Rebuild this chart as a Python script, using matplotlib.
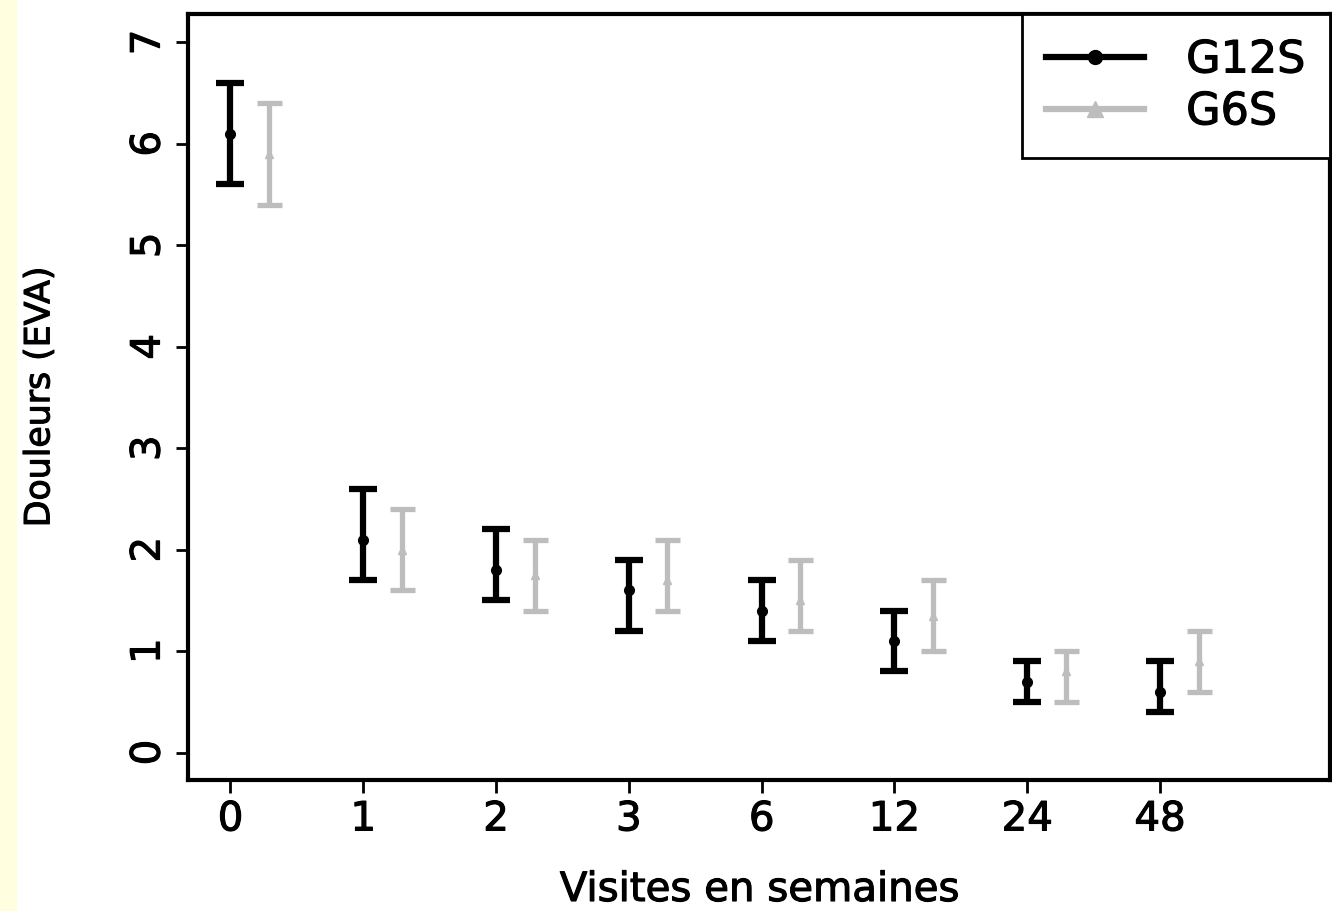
import numpy as np
import matplotlib.pyplot as plt
from matplotlib.lines import Line2D
import matplotlib.patheffects as pe

plt.rcParams['font.family'] = ['DejaVu Sans']

weeks = ['0', '1', '2', '3', '6', '12', '24', '48']

g12_mean = [6.1, 2.1, 1.8, 1.6, 1.4, 1.1, 0.7, 0.6]
g12_low = [5.6, 1.7, 1.5, 1.2, 1.1, 0.8, 0.5, 0.4]
g12_high = [6.6, 2.6, 2.2, 1.9, 1.7, 1.4, 0.9, 0.9]

g6_mean = [5.9, 2.0, 1.75, 1.7, 1.5, 1.35, 0.8, 0.9]
g6_low = [5.4, 1.6, 1.4, 1.4, 1.2, 1.0, 0.5, 0.6]
g6_high = [6.4, 2.4, 2.1, 2.1, 1.9, 1.7, 1.0, 1.2]

thick = [pe.withStroke(linewidth=0.8, foreground='black')]

fig = plt.figure(figsize=(13.32, 9.12), dpi=100)
fig.patches.append(plt.Rectangle((0, 0), 16 / 1332, 1, transform=fig.transFigure,
                                 color='#FFFFE0', zorder=-1))
ax = fig.add_axes([188 / 1332, 1 - 781 / 912, 1142 / 1332, 766 / 912])

x = np.arange(len(weeks))
m12 = np.array(g12_mean)
m6 = np.array(g6_mean)

ax.errorbar(x, m12, yerr=[m12 - np.array(g12_low), np.array(g12_high) - m12],
            fmt='o', color='black', ms=7, elinewidth=4.5, capsize=10, capthick=4.5)
ax.errorbar(x + 0.29, m6, yerr=[m6 - np.array(g6_low), np.array(g6_high) - m6],
            fmt='^', color='#BDBDBD', ms=6, elinewidth=3.8, capsize=9, capthick=3.8)

ax.set_xlim(-0.32, 8.28)
ax.set_ylim(-0.27, 7.28)
ax.set_xticks(x)
ax.set_xticklabels(weeks)
ax.set_yticks(range(8))
for lab in ax.get_yticklabels():
    lab.set_rotation(90)
    lab.set_va('center')
ax.tick_params(labelsize=29, length=9, width=2, pad=5)
for lab in ax.get_xticklabels() + ax.get_yticklabels():
    lab.set_path_effects(thick)
for s in ax.spines.values():
    s.set_linewidth(3)

ax.set_xlabel('Visites en semaines', fontsize=29, labelpad=22, path_effects=thick)
ax.set_ylabel('Douleurs (EVA)', fontsize=25, labelpad=52, path_effects=thick)

handles = [Line2D([], [], color='black', lw=4.5, marker='o', ms=10),
           Line2D([], [], color='#BDBDBD', lw=4.5, marker='^', ms=11)]
leg = ax.legend(handles, ['G12S', 'G6S'], loc='upper right', fontsize=32,
                borderaxespad=0, fancybox=False, framealpha=1, handlelength=2.2,
                handletextpad=0.95, labelspacing=0.2, borderpad=0.55)
leg.get_frame().set_edgecolor('black')
leg.get_frame().set_linewidth(2)
for t in leg.get_texts():
    t.set_path_effects(thick)

fig.savefig('out.png', dpi=100)
